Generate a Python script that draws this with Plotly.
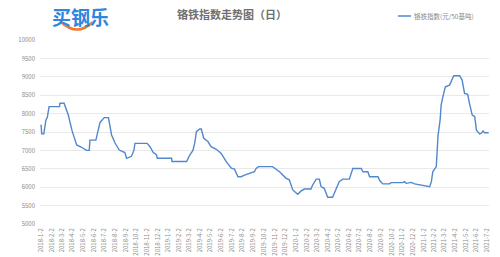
import plotly.graph_objects as go

# ---------------- data ----------------
dates = [
    "2018-01-02", "2018-01-04", "2018-01-10", "2018-01-13", "2018-01-16", "2018-01-20",
    "2018-01-22", "2018-01-25", "2018-02-24", "2018-02-25", "2018-03-09", "2018-03-16",
    "2018-03-21", "2018-04-01", "2018-04-14", "2018-04-28", "2018-05-12", "2018-05-20",
    "2018-05-22", "2018-06-08", "2018-06-20", "2018-07-02", "2018-07-14", "2018-07-23",
    "2018-08-02", "2018-08-14", "2018-08-30", "2018-09-04", "2018-09-18", "2018-09-25",
    "2018-09-28", "2018-11-02", "2018-11-10", "2018-11-19", "2018-11-29", "2018-12-01",
    "2019-01-11", "2019-01-12", "2019-02-23", "2019-03-04", "2019-03-13", "2019-03-18",
    "2019-03-23", "2019-04-01", "2019-04-06", "2019-04-13", "2019-04-25", "2019-05-04",
    "2019-05-19", "2019-06-02", "2019-06-09", "2019-06-16", "2019-07-01", "2019-07-10",
    "2019-07-20", "2019-07-29", "2019-08-08", "2019-08-22", "2019-09-05", "2019-09-10",
    "2019-09-17", "2019-10-27", "2019-11-11", "2019-11-16", "2019-12-05", "2019-12-14",
    "2019-12-24", "2020-01-07", "2020-01-17", "2020-01-26", "2020-02-14", "2020-02-19",
    "2020-02-29", "2020-03-09", "2020-03-14", "2020-03-23", "2020-04-02", "2020-04-16",
    "2020-04-21", "2020-05-05", "2020-05-15", "2020-06-03", "2020-06-13", "2020-07-07",
    "2020-07-12", "2020-07-26", "2020-07-31", "2020-08-24", "2020-08-29", "2020-09-07",
    "2020-09-26", "2020-10-01", "2020-11-03", "2020-11-08", "2020-11-13", "2020-11-27",
    "2020-12-07", "2020-12-21", "2021-01-14", "2021-01-19", "2021-01-24", "2021-01-28",
    "2021-02-07", "2021-02-12", "2021-02-18", "2021-02-21", "2021-02-26", "2021-03-05",
    "2021-03-17", "2021-03-24", "2021-03-29", "2021-04-15", "2021-04-22", "2021-04-29",
    "2021-05-08", "2021-05-13", "2021-05-21", "2021-05-28", "2021-06-02", "2021-06-11",
    "2021-06-16", "2021-06-21", "2021-06-25", "2021-07-07",
]
index_values = [
    7700, 7450, 7450, 7600, 7830, 7900,
    8000, 8190, 8190, 8280, 8280, 8100,
    7960, 7530, 7150, 7085, 7000, 7000,
    7280, 7280, 7760, 7890, 7890, 7420,
    7200, 7010, 6940, 6785, 6840, 7000,
    7190, 7190, 7100, 6950, 6875, 6785,
    6785, 6700, 6700, 6875, 7000, 7190,
    7510, 7580, 7580, 7330, 7240, 7100,
    7030, 6920, 6800, 6700, 6515, 6490,
    6285, 6285, 6330, 6380, 6420, 6510,
    6560, 6560, 6470, 6420, 6240, 6200,
    5925, 5810, 5900, 5950, 5950, 6060,
    6220, 6220, 6015, 5970, 5725, 5725,
    5835, 6150, 6220, 6220, 6510, 6510,
    6420, 6420, 6285, 6285, 6180, 6090,
    6090, 6125, 6125, 6150, 6105, 6130,
    6090, 6060, 6015, 6015, 6150, 6420,
    6560, 7400, 7830, 8235, 8460, 8730,
    8775, 8910, 9030, 9030, 8910, 8550,
    8525, 8280, 7960, 7920, 7550, 7445,
    7465, 7530, 7480, 7480,
]

tick_dates = [
    "2018-01-02", "2018-02-02", "2018-03-02", "2018-04-02", "2018-05-02", "2018-06-02",
    "2018-07-02", "2018-08-02", "2018-09-02", "2018-10-02", "2018-11-02", "2018-12-02",
    "2019-01-02", "2019-02-02", "2019-03-02", "2019-04-02", "2019-05-02", "2019-06-02",
    "2019-07-02", "2019-08-02", "2019-09-02", "2019-10-02", "2019-11-02", "2019-12-02",
    "2020-01-02", "2020-02-02", "2020-03-02", "2020-04-02", "2020-05-02", "2020-06-02",
    "2020-07-02", "2020-08-02", "2020-09-02", "2020-10-02", "2020-11-02", "2020-12-02",
    "2021-01-02", "2021-02-02", "2021-03-02", "2021-04-02", "2021-05-02", "2021-06-02",
    "2021-07-02",
]
tick_labels = [
    "2018-1-2", "2018-2-2", "2018-3-2", "2018-4-2", "2018-5-2", "2018-6-2",
    "2018-7-2", "2018-8-2", "2018-9-2", "2018-10-2", "2018-11-2", "2018-12-2",
    "2019-1-2", "2019-2-2", "2019-3-2", "2019-4-2", "2019-5-2", "2019-6-2",
    "2019-7-2", "2019-8-2", "2019-9-2", "2019-10-2", "2019-11-2", "2019-12-2",
    "2020-1-2", "2020-2-2", "2020-3-2", "2020-4-2", "2020-5-2", "2020-6-2",
    "2020-7-2", "2020-8-2", "2020-9-2", "2020-10-2", "2020-11-2", "2020-12-2",
    "2021-1-2", "2021-2-2", "2021-3-2", "2021-4-2", "2021-5-2", "2021-6-2",
    "2021-7-2",
]
y_ticks = [5000, 5500, 6000, 6500, 7000, 7500, 8000, 8500, 9000, 9500, 10000]

title_text = "铬铁指数走势图（日）"
series_name = "铬铁指数(元/50基吨)"
logo_text = "买钢乐"

LINE = "#5287cc"
GRID = "#e9e9e9"
LABEL = "#8a8a8a"
FONT = "Noto Sans CJK SC, Liberation Sans, sans-serif"

# ---------------- figure ----------------
fig = go.Figure()
fig.add_trace(go.Scatter(
    x=dates, y=index_values, mode="lines", name=series_name,
    line=dict(color=LINE, width=1.4), showlegend=False,
))

# plot area in pixels: x 40..489, y 40..224
L, R, T, B = 40, 489, 40, 224
W, H = R - L, B - T
def px(x):
    return (x - L) / W
def py(y):
    return (B - y) / H

fig.update_layout(
    width=500, height=257,
    margin=dict(l=L, r=500 - R, t=T, b=257 - B),
    paper_bgcolor="white", plot_bgcolor="white",
    font=dict(family=FONT, color=LABEL),
    xaxis=dict(
        type="date", range=["2017-12-30", "2021-07-08"],
        tickvals=tick_dates, ticktext=tick_labels, tickangle=-90,
        tickfont=dict(size=6, color=LABEL), showgrid=False, zeroline=False,
        showline=False, ticks="", automargin=False, ticklabelstandoff=2,
    ),
    yaxis=dict(
        range=[5000, 10000], tickvals=y_ticks, ticktext=[str(v) for v in y_ticks],
        tickfont=dict(size=6, color=LABEL), showgrid=True, gridcolor=GRID,
        gridwidth=1, zeroline=False, showline=False, ticks="", automargin=False,
        ticklabelstandoff=4,
    ),
)

# title
fig.add_annotation(
    text="<b>" + title_text + "</b>", xref="paper", yref="paper",
    x=px(232), y=py(14), showarrow=False, xanchor="center", yanchor="middle",
    font=dict(size=11, color="#707070", family="Noto Sans CJK SC"),
)

# logo
fig.add_annotation(
    text="<b>" + logo_text + "</b>", xref="paper", yref="paper",
    x=px(50), y=py(16), showarrow=False, xanchor="left", yanchor="middle",
    font=dict(size=19, color="#2f86dd", family="Noto Sans CJK SC"),
)
fig.add_shape(
    type="path", xref="paper", yref="paper",
    path=f"M {px(61)},{py(22)} Q {px(77)},{py(37)} {px(93)},{py(22)}",
    line=dict(color="#f07a2a", width=2.5),
)

# legend
fig.add_shape(
    type="line", xref="paper", yref="paper",
    x0=px(398), x1=px(411), y0=py(16), y1=py(16),
    line=dict(color=LINE, width=1.5),
)
fig.add_annotation(
    text=series_name, xref="paper", yref="paper",
    x=px(412), y=py(16), showarrow=False, xanchor="left", yanchor="middle",
    font=dict(size=6.5, color="#8a8a8a", family=FONT),
)

fig.write_html("out.html")
